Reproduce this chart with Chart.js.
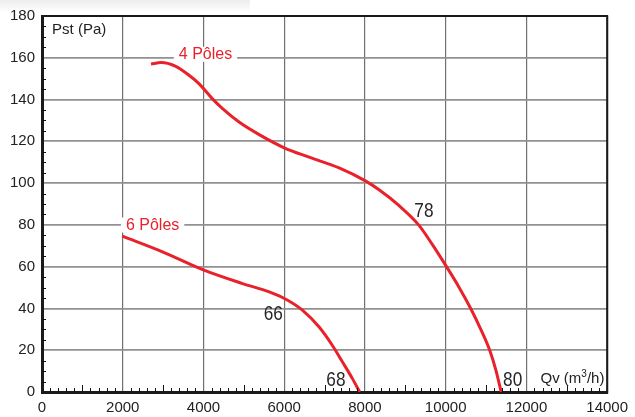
<!DOCTYPE html>
<html>
<head>
<meta charset="utf-8">
<script src="https://cdn.jsdelivr.net/npm/chart.js@4.4.0/dist/chart.umd.min.js"></script>
<style>
html, body { margin: 0; padding: 0; background: #fff; }
#wrap { position: relative; width: 635px; height: 417px; }
#shade { position: absolute; left: 0; top: 0; width: 250px; height: 12px;
  background: linear-gradient(to bottom, rgba(0,0,0,0.07), rgba(0,0,0,0)); }
canvas { position: absolute; left: 0; top: 0; }
</style>
</head>
<body>
<div id="wrap"><div id="shade"></div><canvas id="fanChart" width="635" height="417"></canvas></div>
<script>
// Fan curves: static pressure (Pa) vs air flow (m3/h)
const qv4Poles = [2700, 2950, 3300, 3650, 3900, 4230, 4480, 4890, 5380, 6000, 6620, 7360, 8000, 8350, 8840, 9330, 9680, 10020, 10330, 10620, 10870, 11100, 11250, 11375];
const pst4Poles = [157, 157.7, 156, 151.5, 147.4, 140.2, 135.5, 129.1, 123.2, 116.9, 112.4, 107.3, 101.2, 96.8, 89.3, 80, 70.3, 60, 50.2, 40, 30, 19.5, 10, 0];

const qv6Poles = [1990, 3000, 3980, 4970, 5630, 6040, 6450, 6860, 7190, 7440, 7690, 7870];
const pst6Poles = [74.6, 67, 58.6, 51.9, 47.9, 44.4, 39.2, 31.2, 22.4, 14.5, 6.4, 0];

const xTicks = [0, 2000, 4000, 6000, 8000, 10000, 12000, 14000];
const yTicks = [0, 20, 40, 60, 80, 100, 120, 140, 160, 180];

// text annotations, placed in data units
const curveLabels = [
  { text: '4 Pôles', x: 4050, y: 161.4 },
  { text: '6 Pôles', x: 2740, y: 79.7 }
];
const noiseLabels = [
  { text: '78', x: 9460, y: 86.5 },
  { text: '66', x: 5730, y: 37.3 },
  { text: '68', x: 7280, y: 5.7 },
  { text: '80', x: 11660, y: 5.7 }
];

const red = '#e8212b';
const tickFont = "'Liberation Sans', Arial, sans-serif";

function toPoints(xs, ys) {
  return xs.map((x, i) => ({ x: x, y: ys[i] }));
}

const fanDecor = {
  id: 'fanDecor',
  afterDraw(chart) {
    const { ctx, chartArea: a, scales: { x, y } } = chart;
    ctx.save();

    // minor ticks on the bottom and left axes, pointing inside
    ctx.strokeStyle = '#111';
    ctx.lineWidth = 1;
    ctx.beginPath();
    for (let v = 200; v < 14000; v += 200) {
      if (v % 2000 === 0) continue;
      const px = Math.round(x.getPixelForValue(v)) + 0.5;
      const len = v % 1000 === 0 ? 7 : 4;
      ctx.moveTo(px, a.bottom);
      ctx.lineTo(px, a.bottom - len);
    }
    for (let v = 5; v < 180; v += 5) {
      if (v % 20 === 0) continue;
      const py = Math.round(y.getPixelForValue(v)) + 0.5;
      ctx.moveTo(a.left, py);
      ctx.lineTo(a.left + 4, py);
    }
    ctx.stroke();

    // top and right frame
    ctx.strokeStyle = '#1a1a1a';
    ctx.lineWidth = 2;
    ctx.beginPath();
    ctx.moveTo(a.left, a.top);
    ctx.lineTo(a.right, a.top);
    ctx.lineTo(a.right, a.bottom);
    ctx.stroke();

    // axis titles
    ctx.fillStyle = '#222';
    ctx.font = '15px ' + tickFont;
    ctx.textBaseline = 'middle';
    ctx.textAlign = 'left';
    ctx.fillText('Pst (Pa)', x.getPixelForValue(250), y.getPixelForValue(173.3));
    const qx = x.getPixelForValue(12350), qy = y.getPixelForValue(6.3);
    ctx.fillText('Qv (m', qx, qy);
    let w = ctx.measureText('Qv (m').width;
    ctx.font = '10px ' + tickFont;
    ctx.fillText('3', qx + w, qy - 5);
    w += ctx.measureText('3').width;
    ctx.font = '15px ' + tickFont;
    ctx.fillText('/h)', qx + w, qy);

    // curve names with white background
    ctx.font = '16px ' + tickFont;
    ctx.textAlign = 'center';
    curveLabels.forEach(l => {
      const px = x.getPixelForValue(l.x), py = y.getPixelForValue(l.y);
      const tw = ctx.measureText(l.text).width;
      ctx.fillStyle = '#fff';
      ctx.fillRect(px - tw / 2 - 5, py - 8, tw + 10, 15);
      ctx.fillStyle = red;
      ctx.fillText(l.text, px, py);
    });

    // noise levels, condensed
    ctx.fillStyle = '#262626';
    ctx.font = '21px ' + tickFont;
    noiseLabels.forEach(l => {
      ctx.save();
      ctx.translate(x.getPixelForValue(l.x), y.getPixelForValue(l.y));
      ctx.scale(0.82, 1);
      ctx.fillText(l.text, 0, 0);
      ctx.restore();
    });

    ctx.restore();
  }
};

const lineStyle = {
  borderColor: red,
  borderWidth: 3,
  pointRadius: 0,
  showLine: true,
  fill: false,
  cubicInterpolationMode: 'monotone'
};

new Chart(document.getElementById('fanChart'), {
  type: 'scatter',
  data: {
    datasets: [
      Object.assign({ label: '4 Pôles', data: toPoints(qv4Poles, pst4Poles) }, lineStyle),
      Object.assign({ label: '6 Pôles', data: toPoints(qv6Poles, pst6Poles) }, lineStyle)
    ]
  },
  options: {
    responsive: false,
    animation: false,
    devicePixelRatio: 1,
    layout: { padding: { left: 0, right: 26, top: 15, bottom: 0 } },
    plugins: { legend: { display: false }, tooltip: { enabled: false } },
    scales: {
      x: {
        type: 'linear',
        min: 0,
        max: 14000,
        afterFit: s => { s.height = 25; },
        afterBuildTicks: s => { s.ticks = xTicks.map(v => ({ value: v })); },
        ticks: { color: '#222', font: { family: tickFont, size: 15 }, padding: 7, maxRotation: 0, autoSkip: false,
          callback: v => String(v) },
        grid: { color: '#707070', lineWidth: 1.2, drawTicks: false, tickLength: 0 },
        border: { display: true, color: '#1a1a1a', width: 3 }
      },
      y: {
        type: 'linear',
        min: 0,
        max: 180,
        afterFit: s => { s.width = 42; },
        afterBuildTicks: s => { s.ticks = yTicks.map(v => ({ value: v })); },
        ticks: { color: '#222', font: { family: tickFont, size: 15 }, padding: 7, autoSkip: false,
          callback: v => String(v) },
        grid: { color: '#919191', lineWidth: 1.7, drawTicks: false, tickLength: 0 },
        border: { display: true, color: '#1a1a1a', width: 3 }
      }
    }
  },
  plugins: [fanDecor]
});
</script>
</body>
</html>
